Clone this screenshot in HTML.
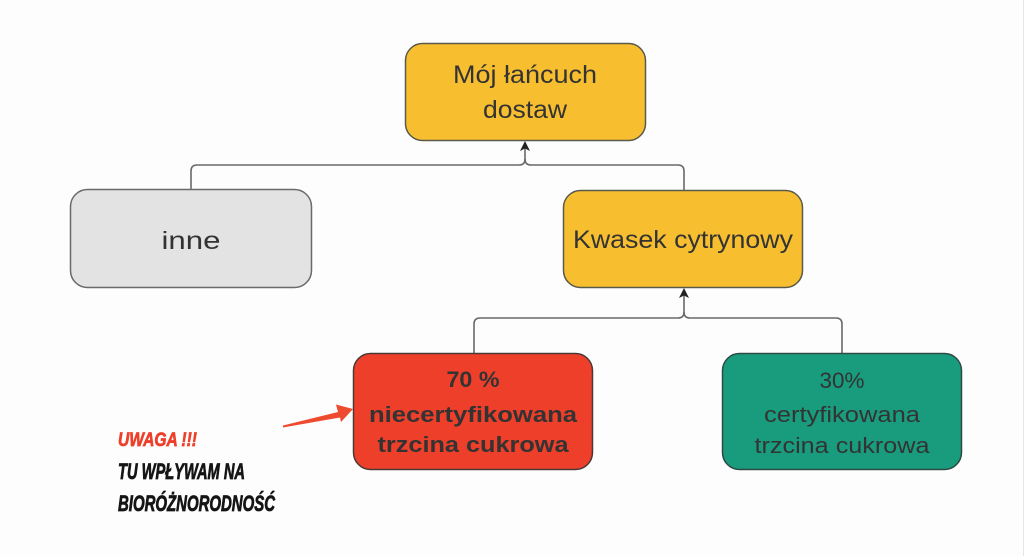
<!DOCTYPE html>
<html>
<head>
<meta charset="utf-8">
<style>
  html,body{margin:0;padding:0;background:#fdfdfd;}
  body{width:1024px;height:556px;overflow:hidden;}
  svg{display:block;}
  .t{font-family:"Liberation Sans","DejaVu Sans",sans-serif;fill:#333;}
</style>
</head>
<body>
<svg width="1024" height="556" viewBox="0 0 1024 556" xmlns="http://www.w3.org/2000/svg">
  <rect x="0" y="0" width="1024" height="556" fill="#fdfdfd"/>
  <line x1="1023.5" y1="0" x2="1023.5" y2="556" stroke="#e6e6e6" stroke-width="1"/>

  <!-- connectors -->
  <g fill="none" stroke="#6a6a6a" stroke-width="1.6">
    <path d="M191,189 V171 Q191,165 197,165 H519 Q525,165 525,159 V146"/>
    <path d="M684,190 V171 Q684,165 678,165 H531 Q525,165 525,159"/>
    <path d="M474,353 V324 Q474,318 480,318 H678 Q684,318 684,312 V292"/>
    <path d="M842,353 V324 Q842,318 836,318 H690 Q684,318 684,312"/>
  </g>
  <!-- arrowheads -->
  <path d="M525,141 L530,151 L525,148.5 L520,151 Z" fill="#222"/>
  <path d="M684,288 L689,298 L684,295.5 L679,298 Z" fill="#222"/>

  <!-- boxes -->
  <rect x="405.5" y="43.5" width="240" height="97" rx="17" fill="#f7bf30" stroke="#5a5a4a" stroke-width="1.5"/>
  <rect x="70.5" y="189.5" width="241" height="98" rx="17" fill="#e3e3e3" stroke="#6a6a6a" stroke-width="1.5"/>
  <rect x="563.5" y="190.5" width="239" height="97" rx="17" fill="#f7bf30" stroke="#5a5a4a" stroke-width="1.5"/>
  <rect x="353.5" y="353.5" width="239" height="116" rx="17" fill="#ee3f2a" stroke="#4a3a36" stroke-width="1.5"/>
  <rect x="722.5" y="353.5" width="239" height="116" rx="17" fill="#189c7d" stroke="#2f4a44" stroke-width="1.5"/>

  <!-- texts -->
  <text class="t" x="525" y="83" font-size="25" text-anchor="middle" textLength="144" lengthAdjust="spacingAndGlyphs" fill="#3a3422">Mój łańcuch</text>
  <text class="t" x="525" y="118" font-size="25" text-anchor="middle" textLength="84" lengthAdjust="spacingAndGlyphs" fill="#3a3422">dostaw</text>

  <text class="t" x="191" y="249" font-size="25" text-anchor="middle" textLength="59" lengthAdjust="spacingAndGlyphs" fill="#333">inne</text>

  <text class="t" x="683" y="248" font-size="25" text-anchor="middle" textLength="220" lengthAdjust="spacingAndGlyphs" fill="#3a3422">Kwasek cytrynowy</text>

  <text class="t" x="473" y="387" font-size="22" font-weight="bold" text-anchor="middle" textLength="53" lengthAdjust="spacingAndGlyphs" fill="#2a1a16">70 %</text>
  <text class="t" x="473" y="422" font-size="22" font-weight="bold" text-anchor="middle" textLength="208" lengthAdjust="spacingAndGlyphs" fill="#2a1a16">niecertyfikowana</text>
  <text class="t" x="473" y="452" font-size="22" font-weight="bold" text-anchor="middle" textLength="191" lengthAdjust="spacingAndGlyphs" fill="#2a1a16">trzcina cukrowa</text>

  <text class="t" x="842" y="388" font-size="22" text-anchor="middle" textLength="45" lengthAdjust="spacingAndGlyphs" fill="#243b35">30%</text>
  <text class="t" x="842" y="422" font-size="22" text-anchor="middle" textLength="156" lengthAdjust="spacingAndGlyphs" fill="#243b35">certyfikowana</text>
  <text class="t" x="842" y="453" font-size="22" text-anchor="middle" textLength="175" lengthAdjust="spacingAndGlyphs" fill="#243b35">trzcina cukrowa</text>

  <!-- red pointer arrow -->
  <path d="M283,425.5 L338,412 L336,404.5 L353,409 L341,422 L340,417.5 L283,427.5 Z" fill="#ee4a2e"/>

  <!-- warning note -->
  <text x="118" y="446" font-family="'Liberation Sans',sans-serif" font-size="19" font-weight="bold" font-style="italic" fill="#ee3f2a" stroke="#ee3f2a" stroke-width="0.7" textLength="79" lengthAdjust="spacingAndGlyphs">UWAGA !!!</text>
  <text x="118" y="479" font-family="'Liberation Sans',sans-serif" font-size="22" font-weight="bold" font-style="italic" fill="#151515" stroke="#151515" stroke-width="0.8" textLength="127" lengthAdjust="spacingAndGlyphs">TU WPŁYWAM NA</text>
  <text x="118" y="511" font-family="'Liberation Sans',sans-serif" font-size="22" font-weight="bold" font-style="italic" fill="#151515" stroke="#151515" stroke-width="0.8" textLength="157" lengthAdjust="spacingAndGlyphs">BIORÓŻNORODNOŚĆ</text>
</svg>
</body>
</html>
